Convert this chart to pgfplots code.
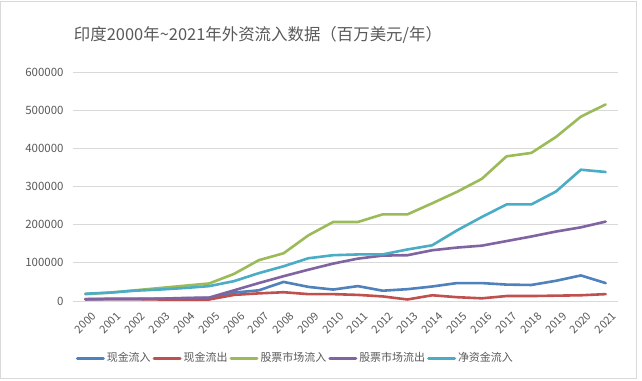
\documentclass[border=0pt]{standalone}
\usepackage{pgfplots}
\pgfplotsset{compat=1.18}
\usepackage{fontspec}
\setmainfont{Noto Sans CJK SC}
\definecolor{cblue}{HTML}{4F81BD}
\definecolor{cred}{HTML}{C0504D}
\definecolor{cgreen}{HTML}{9BBB59}
\definecolor{cpurple}{HTML}{8064A2}
\definecolor{cteal}{HTML}{4BACC6}
\definecolor{txt}{HTML}{595959}
\definecolor{gridc}{HTML}{D9D9D9}
\begin{document}
\begin{tikzpicture}[x=1bp,y=1bp]
\fill[white] (0,0) rectangle (642,380);
\draw[gridc, line width=0.75bp] (0.5,2) rectangle (636,379);
\node[text=txt, font=\fontsize{16.5}{18}\selectfont] at (258,345) {印度2000年\textasciitilde 2021年外资流入数据（百万美元/年）};
\begin{axis}[
  at={(73bp,79bp)}, anchor=south west,
  scale only axis, width=545bp, height=229bp,
  xmin=-0.5, xmax=21.5, ymin=0, ymax=600000,
  ytick={0,100000,200000,300000,400000,500000,600000},
  scaled y ticks=false,
  yticklabel style={/pgf/number format/fixed, /pgf/number format/1000 sep={}, /pgf/number format/assume math mode=true, text=txt, font=\fontsize{11.5}{13}\selectfont, xshift=-6bp},
  xtick={0,...,21},
  xticklabels={2000,2001,2002,2003,2004,2005,2006,2007,2008,2009,2010,2011,2012,2013,2014,2015,2016,2017,2018,2019,2020,2021},
  xticklabel style={rotate=45, anchor=north east, inner sep=0pt, yshift=-11bp, xshift=-3bp, text=txt, font=\fontsize{11}{12}\selectfont},
  major tick length=0pt,
  axis line style={draw=none},
  ymajorgrids, grid style={gridc, line width=0.75bp},
  every axis plot/.append style={line width=2.6bp, line join=round, line cap=round},
  legend columns=5,
  legend style={draw=none, fill=none, at={(0.407,-0.249)}, anchor=center, font=\fontsize{11}{12}\selectfont, text=txt, inner sep=0pt,
    nodes={inner sep=1bp}, /tikz/every even column/.append style={column sep=1bp}, /tikz/every odd column/.append style={column sep=1bp}},
  legend image code/.code={\draw[#1, line width=3bp, line cap=round] (0bp,0bp) -- (26bp,0bp);},
]
\addplot[cblue] coordinates {(0,5000)(1,6000)(2,6000)(3,6000)(4,7000)(5,8000)(6,22000)(7,28000)(8,50000)(9,37000)(10,30000)(11,39000)(12,27000)(13,31000)(14,38000)(15,47000)(16,47000)(17,43000)(18,42000)(19,53000)(20,67000)(21,47000)};
\addlegendentry{现金流入}
\addplot[cred] coordinates {(0,5000)(1,5000)(2,5000)(3,4000)(4,4000)(5,4000)(6,16000)(7,20000)(8,23000)(9,18000)(10,18000)(11,16000)(12,12000)(13,4000)(14,15000)(15,10000)(16,7000)(17,13000)(18,13000)(19,14000)(20,15000)(21,18000)};
\addlegendentry{现金流出}
\addplot[cgreen] coordinates {(0,18000)(1,22000)(2,28000)(3,34000)(4,40000)(5,46000)(6,71000)(7,107000)(8,125000)(9,172000)(10,207000)(11,207000)(12,227000)(13,227000)(14,256000)(15,286000)(16,320000)(17,379000)(18,388000)(19,430000)(20,483000)(21,515000)};
\addlegendentry{股票市场流入}
\addplot[cpurple] coordinates {(0,4000)(1,5000)(2,5000)(3,6000)(4,8000)(5,9000)(6,28000)(7,47000)(8,65000)(9,82000)(10,98000)(11,111000)(12,119000)(13,120000)(14,133000)(15,140000)(16,145000)(17,157000)(18,169000)(19,182000)(20,193000)(21,208000)};
\addlegendentry{股票市场流出}
\addplot[cteal] coordinates {(0,19000)(1,22000)(2,27000)(3,30000)(4,34000)(5,39000)(6,52000)(7,73000)(8,91000)(9,112000)(10,120000)(11,122000)(12,122000)(13,135000)(14,146000)(15,185000)(16,220000)(17,253000)(18,253000)(19,287000)(20,344000)(21,338000)};
\addlegendentry{净资金流入}
\end{axis}
\end{tikzpicture}
\end{document}
